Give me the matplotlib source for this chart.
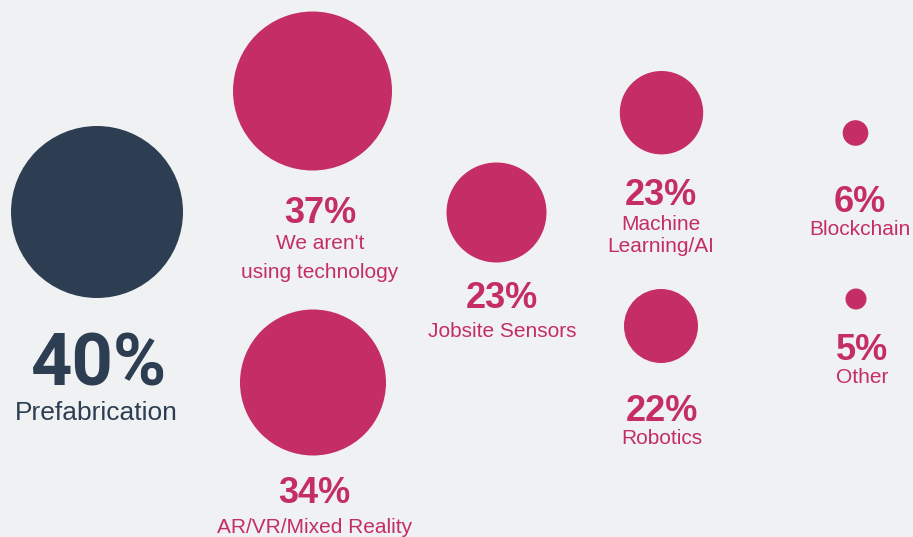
import matplotlib
matplotlib.use("Agg")
import matplotlib.pyplot as plt
from matplotlib.patches import Circle

# Data
categories = ["Prefabrication", "We aren't\nusing technology", "AR/VR/Mixed Reality",
              "Jobsite Sensors", "Machine\nLearning/AI", "Robotics", "Blockchain", "Other"]
values = [40, 37, 34, 23, 23, 22, 6, 5]

# Layout (pixel coordinates)
cx = [97, 312.5, 313, 496.5, 661.5, 661, 855.5, 856]
cy = [212, 91, 382.5, 212.5, 112.7, 326, 133, 299]
radius = [86, 79.5, 73, 50, 41.7, 37, 12.8, 10.5]
pct_x = [98, 320, 314.5, 502, 661, 661.5, 860, 862.5]
pct_base = [386, 223, 503, 308, 205, 421, 212, 360]
lab_base = [420, 249, 533, 337, 230, 444, 235, 383]
line_gap = [0, 29, 0, 0, 22, 0, 0, 0]

BG = "#f0f1f3"
NAVY = "#2d3e52"
PINK = "#c42d66"
colors = [NAVY] + [PINK] * 7

W, H = 913, 537
fig = plt.figure(figsize=(W / 100, H / 100), dpi=100, facecolor=BG)
ax = fig.add_axes([0, 0, 1, 1])
ax.set_facecolor(BG)
ax.set_xlim(0, W)
ax.set_ylim(H, 0)
ax.set_aspect("equal")
ax.axis("off")

for i, (cat, v) in enumerate(zip(categories, values)):
    ax.add_patch(Circle((cx[i], cy[i]), radius[i], facecolor=colors[i], edgecolor="none"))
    if i == 0:
        ax.text(pct_x[i], pct_base[i], f"{v}%", ha="center", va="baseline",
                fontsize=52, fontweight="bold", color=colors[i], family="Roboto")
        ax.text(96.5, lab_base[i], cat, ha="center", va="baseline",
                fontsize=19, color=colors[i], family="Liberation Sans")
    else:
        ax.text(pct_x[i], pct_base[i], f"{v}%", ha="center", va="baseline",
                fontsize=26, fontweight="bold", color=colors[i], family="Liberation Sans")
        for j, line in enumerate(cat.split("\n")):
            ax.text(pct_x[i], lab_base[i] + j * line_gap[i], line, ha="center", va="baseline",
                    fontsize=15, color=colors[i], family="Liberation Sans")

fig.savefig("out.png", dpi=100, facecolor=BG)
